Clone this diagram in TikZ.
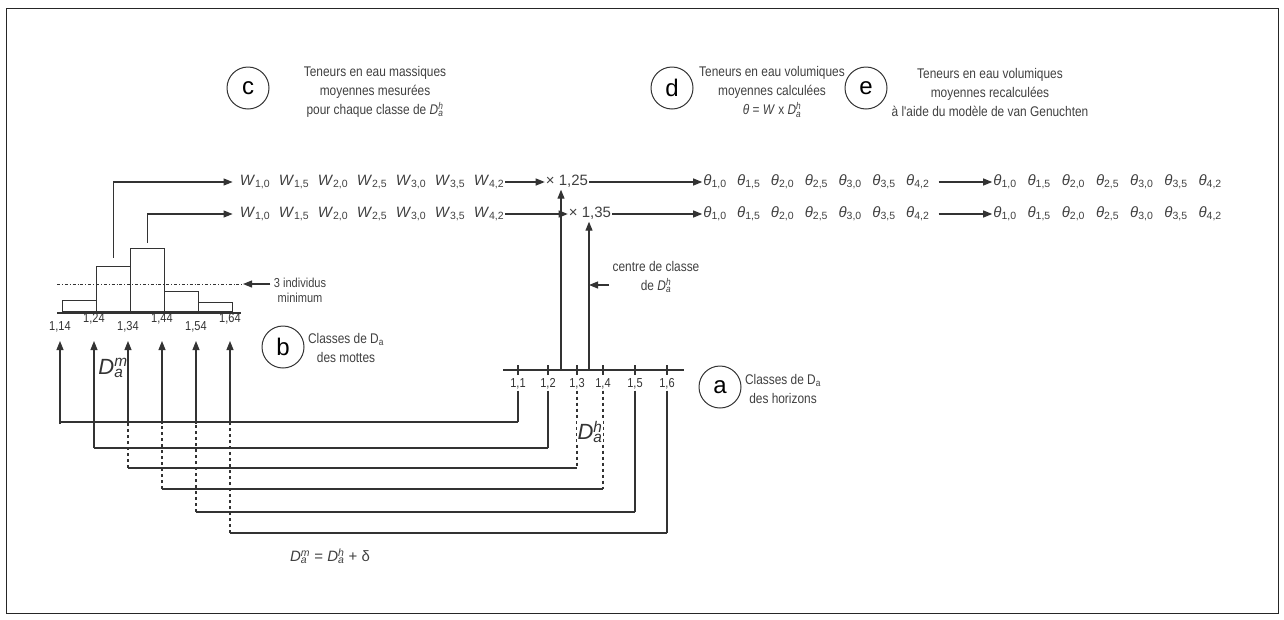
\documentclass[tikz,border=0pt]{standalone}
\usepackage{fontspec}
\setmainfont{Liberation Sans}
\newfontfamily\narrowsans[FakeStretch=0.85]{Liberation Sans}
\usetikzlibrary{arrows.meta}

% D with stacked sub- and superscript
\newcommand{\Dsub}[2]{\textit{D}%
  \setbox0\hbox{\textsuperscript{\itshape #2}}\setbox2\hbox{\textsubscript{\itshape #1}}%
  \rlap{\copy0}\rlap{\copy2}\ifdim\wd0>\wd2 \kern\wd0\relax\else\kern\wd2\relax\fi}

\begin{document}
\begin{tikzpicture}[x=1pt,y=-1pt,
  wire/.style={draw=black!80,line width=1.1pt},
  arr/.style={wire,-{Triangle[length=9pt,width=7pt]}},
  letter/.style={circle,draw=black!80,line width=1pt,minimum size=42pt,inner sep=0pt,font=\fontsize{24}{24}\selectfont},
  captxt/.style={align=center,text=black!75,font=\narrowsans\fontsize{14}{19}\selectfont},
  qty/.style={text=black!75,font=\fontsize{15}{15}\selectfont,text height=10pt,text depth=3pt,inner sep=1pt},
  scalelab/.style={text=black!80,font=\narrowsans\fontsize{13}{13}\selectfont,inner sep=1pt},
  binbox/.style={wire,anchor=south west,minimum width=34,inner sep=0pt},
  sym/.style={text=black!80,font=\fontsize{22}{22}\selectfont,inner sep=1pt},
]
\useasboundingbox (0,0) rectangle (1284,619);
\draw[black!85,line width=1pt] (6,8) rectangle (1278,613);

% circled letters and captions
\node[letter] (c) at (248,88) {c};
\node[captxt] (capc) at (375,92) {Teneurs en eau massiques\\moyennes mesurées\\pour chaque classe de \Dsub{a}{h}};
\node[letter] (d) at (672,88) {d};
\node[captxt] (capd) at (772,92) {Teneurs en eau volumiques\\moyennes calculées\\\textit{θ} = \textit{W} x \Dsub{a}{h}};
\node[letter] (e) at (866,88) {e};
\node[captxt] (cape) at (990,92) {Teneurs en eau volumiques\\moyennes recalculées\\à l'aide du modèle de van Genuchten};
\node[letter] (b) at (283,347) {b};
\node[captxt] (capb) at (346,348) {Classes de D\textsubscript{a}\\des mottes};
\node[letter] (a) at (720,387) {a};
\node[captxt] (capa) at (783,389) {Classes de D\textsubscript{a}\\des horizons};

% rows of water contents
\foreach \s [count=\i] in {{1,0},{1,5},{2,0},{2,5},{3,0},{3,5},{4,2}} {
  \node[qty] (w1-\i) at ({255+39*(\i-1)},182) {\textit{W}\textsubscript{\s}};
  \node[qty] (w2-\i) at ({255+39*(\i-1)},214) {\textit{W}\textsubscript{\s}};
  \node[qty] (td1-\i) at ({715+33.8*(\i-1)},182) {\textit{θ}\textsubscript{\s}};
  \node[qty] (td2-\i) at ({715+33.8*(\i-1)},214) {\textit{θ}\textsubscript{\s}};
  \node[qty] (te1-\i) at ({1005+34.2*(\i-1)},182) {\textit{θ}\textsubscript{\s}};
  \node[qty] (te2-\i) at ({1005+34.2*(\i-1)},214) {\textit{θ}\textsubscript{\s}};
}
\node[qty] (mult1) at (567,182) {× 1,25};
\node[qty] (mult2) at (590,214) {× 1,35};

\draw[arr] (w1-7) -- (mult1);
\draw[arr] (w2-7) -- (mult2);
\draw[arr] (mult1) -- (td1-1);
\draw[arr] (mult2) -- (td2-1);
\draw[arr,shorten <=8pt] (td1-7) -- (te1-1);
\draw[arr,shorten <=8pt] (td2-7) -- (te2-1);

% histogram of the clods
\foreach \h [count=\k] in {11,45,63,20,9}
  \node[binbox,minimum height=\h] (bin\k) at ({62+34*(\k-1)},312) {};
\draw[wire,line width=1.6pt] (57,313) -- (241,313);
\foreach \v/\dy [count=\k] in {14/8,24/0,34/8,44/0,54/8,64/0} {
  \node[scalelab] (hm\k) at ({60+34*(\k-1)},{319+\dy}) {1,\v};
  \coordinate (tip\k) at ({60+34*(\k-1)},341);
}
\coordinate (thr) at (57,284);
\coordinate (thrend) at (243,284);
\draw[wire,line width=0.8pt,dash dot] (thr) -- (thrend);
\node[captxt,font=\narrowsans\fontsize{13}{15}\selectfont] (ind) at (300,290) {3 individus\\minimum};
\draw[arr] (ind.west |- thrend) -- (thrend);

\draw[arr] ([yshift=8pt]bin2.north) |- ([xshift=-6pt]w1-1.west);
\draw[arr] ([yshift=5pt]bin3.north) |- ([xshift=-6pt]w2-1.west);

% axis of the horizons
\draw[wire] (503,370) -- (684,370);
\foreach \v/\x [count=\k] in {1/518,2/548,3/577,4/603,5/635,6/667} {
  \draw[wire] (\x,365) -- (\x,375);
  \node[scalelab] (ha\k) at (\x,384) {1,\v};
}
\coordinate (k125) at (561,370);
\coordinate (k135) at (589,370);
\draw[arr] (k125) -- (k125 |- mult1.south);
\draw[arr] (k135) -- (k135 |- mult2.south);
\node[captxt] (cc) at (656,277) {centre de classe\\de \Dsub{a}{h}};
\draw[arr] (cc.west |- 0,285) -- (k135 |- 0,285);

% shift between horizon and clod classes
\foreach \k/\lev/\rs/\ls in {1/422/solid/solid,2/448/solid/solid,3/468/dashed/dashed,4/489/dashed/dashed,5/512/solid/dashed,6/533/solid/dashed} {
  \draw[wire,\rs] (ha\k.south) -- (ha\k.south |- 0,\lev) coordinate (rt\k);
  \draw[wire] (rt\k) -- (tip\k |- rt\k) coordinate (lt\k);
  \draw[wire,\ls] (lt\k) -- (tip\k |- 0,424);
  \draw[arr] (tip\k |- 0,424) -- (tip\k);
}

\node[sym] (dm) at (113,368) {\Dsub{a}{m}};
\node[sym,fill=white] (dh) at (590,432) {\Dsub{a}{h}};
\node[captxt,font=\fontsize{15}{15}\selectfont] (rel) at (330,556) {\Dsub{a}{m} = \Dsub{a}{h} + δ};
\end{tikzpicture}
\end{document}
